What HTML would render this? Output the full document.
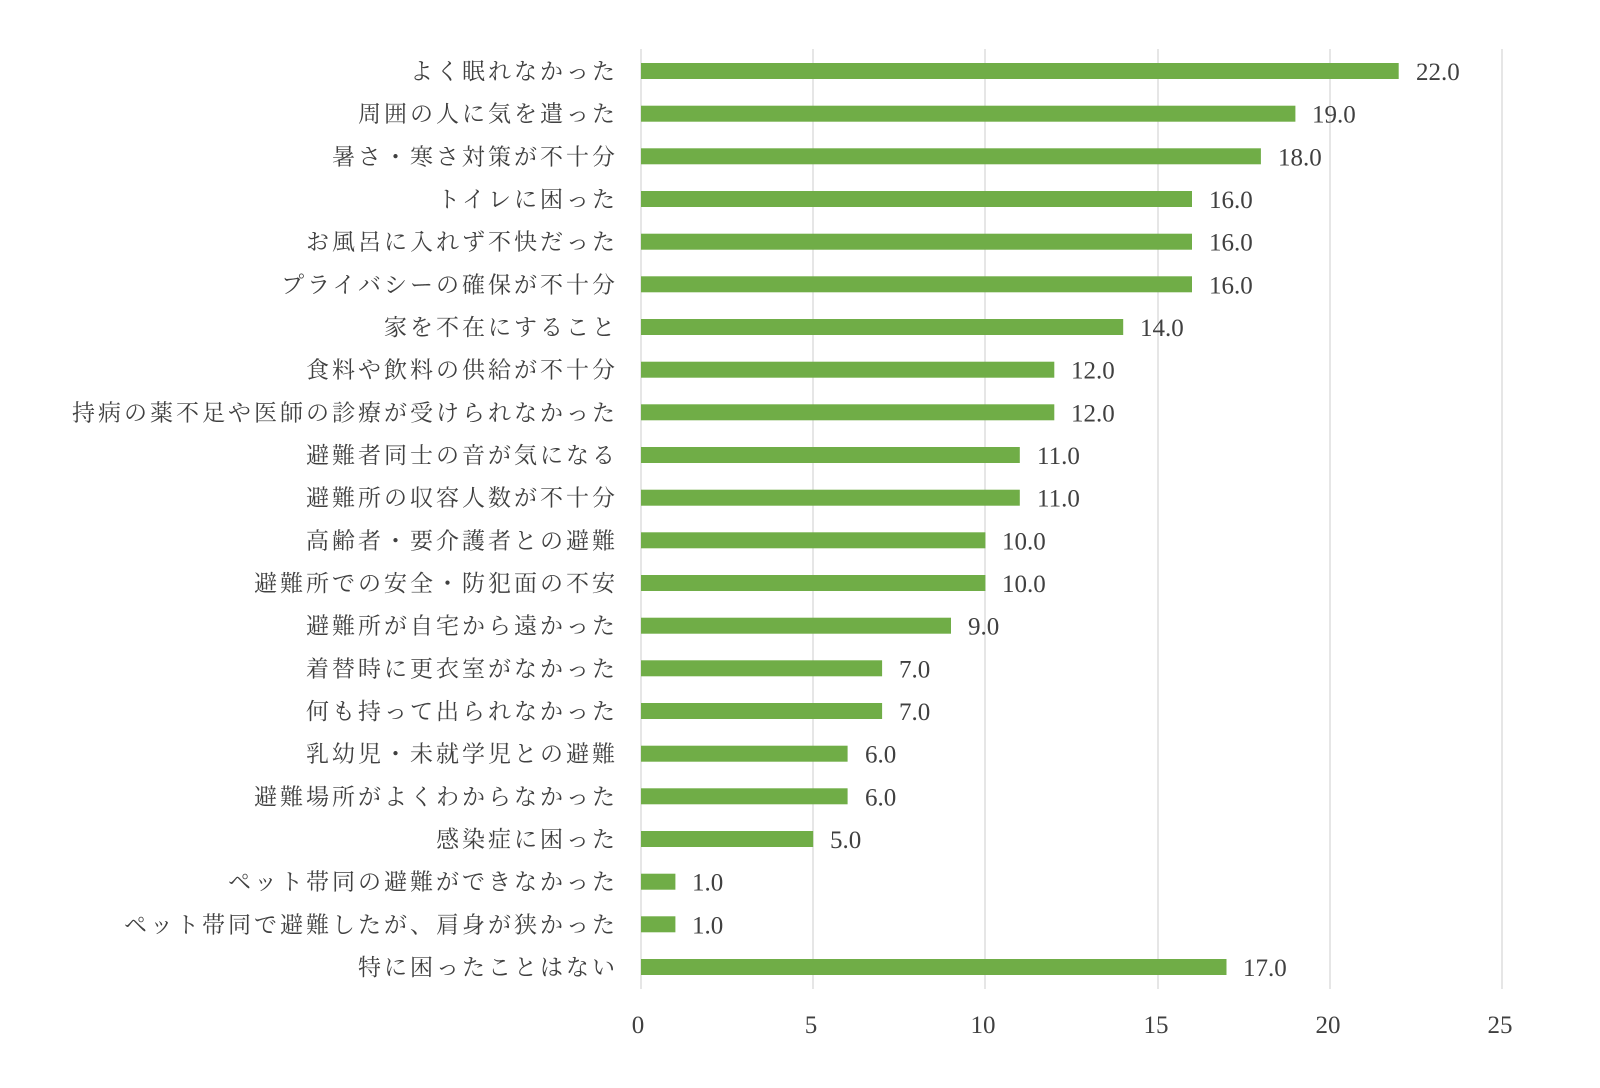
<!DOCTYPE html>
<html><head><meta charset="utf-8"><style>
html,body{margin:0;padding:0;background:#fff;}
svg text{font-family:"Liberation Serif","Noto Serif CJK JP","Noto Serif CJK SC",serif;fill:#404040;font-size:25px;}
.l{text-anchor:end;letter-spacing:3px;font-size:23px;}
</style></head><body>
<svg width="1600" height="1083" viewBox="0 0 1600 1083" xmlns="http://www.w3.org/2000/svg">
<g stroke="#d9d9d9" stroke-width="1.3">
<line x1="641" y1="49" x2="641" y2="989"/>
<line x1="813" y1="49" x2="813" y2="989"/>
<line x1="985" y1="49" x2="985" y2="989"/>
<line x1="1158" y1="49" x2="1158" y2="989"/>
<line x1="1330" y1="49" x2="1330" y2="989"/>
<line x1="1502" y1="49" x2="1502" y2="989"/>
</g>
<g>
<text x="638" y="1033" text-anchor="middle">0</text><text x="811" y="1033" text-anchor="middle">5</text><text x="983" y="1033" text-anchor="middle">10</text><text x="1156" y="1033" text-anchor="middle">15</text><text x="1328" y="1033" text-anchor="middle">20</text><text x="1500" y="1033" text-anchor="middle">25</text>
</g>
<g fill="#70ad47">
<rect x="641" y="63" width="757.7" height="16"/>
<rect x="641" y="105.7" width="654.4" height="16"/>
<rect x="641" y="148.3" width="619.9" height="16"/>
<rect x="641" y="191" width="551" height="16"/>
<rect x="641" y="233.7" width="551" height="16"/>
<rect x="641" y="276.3" width="551" height="16"/>
<rect x="641" y="319" width="482.2" height="16"/>
<rect x="641" y="361.7" width="413.3" height="16"/>
<rect x="641" y="404.3" width="413.3" height="16"/>
<rect x="641" y="447" width="378.8" height="16"/>
<rect x="641" y="489.7" width="378.8" height="16"/>
<rect x="641" y="532.3" width="344.4" height="16"/>
<rect x="641" y="575" width="344.4" height="16"/>
<rect x="641" y="617.7" width="310" height="16"/>
<rect x="641" y="660.3" width="241.1" height="16"/>
<rect x="641" y="703" width="241.1" height="16"/>
<rect x="641" y="745.7" width="206.6" height="16"/>
<rect x="641" y="788.3" width="206.6" height="16"/>
<rect x="641" y="831" width="172.2" height="16"/>
<rect x="641" y="873.7" width="34.4" height="16"/>
<rect x="641" y="916.3" width="34.4" height="16"/>
<rect x="641" y="959" width="585.5" height="16"/>
</g>
<g>
<text class="l" x="618" y="79">よく眠れなかった</text>
<text class="l" x="618" y="121.7">周囲の人に気を遣った</text>
<text class="l" x="618" y="164.3">暑さ・寒さ対策が不十分</text>
<text class="l" x="618" y="207">トイレに困った</text>
<text class="l" x="618" y="249.7">お風呂に入れず不快だった</text>
<text class="l" x="618" y="292.3">プライバシーの確保が不十分</text>
<text class="l" x="618" y="335">家を不在にすること</text>
<text class="l" x="618" y="377.7">食料や飲料の供給が不十分</text>
<text class="l" x="618" y="420.3">持病の薬不足や医師の診療が受けられなかった</text>
<text class="l" x="618" y="463">避難者同士の音が気になる</text>
<text class="l" x="618" y="505.7">避難所の収容人数が不十分</text>
<text class="l" x="618" y="548.3">高齢者・要介護者との避難</text>
<text class="l" x="618" y="591">避難所での安全・防犯面の不安</text>
<text class="l" x="618" y="633.7">避難所が自宅から遠かった</text>
<text class="l" x="618" y="676.3">着替時に更衣室がなかった</text>
<text class="l" x="618" y="719">何も持って出られなかった</text>
<text class="l" x="618" y="761.7">乳幼児・未就学児との避難</text>
<text class="l" x="618" y="804.3">避難場所がよくわからなかった</text>
<text class="l" x="618" y="847">感染症に困った</text>
<text class="l" x="618" y="889.7">ペット帯同の避難ができなかった</text>
<text class="l" x="618" y="932.3">ペット帯同で避難したが、肩身が狭かった</text>
<text class="l" x="618" y="975">特に困ったことはない</text>
</g>
<g>
<text x="1416" y="80">22.0</text>
<text x="1312" y="122.7">19.0</text>
<text x="1278" y="165.3">18.0</text>
<text x="1209" y="208">16.0</text>
<text x="1209" y="250.7">16.0</text>
<text x="1209" y="293.3">16.0</text>
<text x="1140" y="336">14.0</text>
<text x="1071" y="378.7">12.0</text>
<text x="1071" y="421.3">12.0</text>
<text x="1037" y="464">11.0</text>
<text x="1037" y="506.7">11.0</text>
<text x="1002" y="549.3">10.0</text>
<text x="1002" y="592">10.0</text>
<text x="968" y="634.7">9.0</text>
<text x="899" y="677.3">7.0</text>
<text x="899" y="720">7.0</text>
<text x="865" y="762.7">6.0</text>
<text x="865" y="805.3">6.0</text>
<text x="830" y="848">5.0</text>
<text x="692" y="890.7">1.0</text>
<text x="692" y="933.3">1.0</text>
<text x="1243" y="976">17.0</text>
</g>
</svg>
</body></html>
